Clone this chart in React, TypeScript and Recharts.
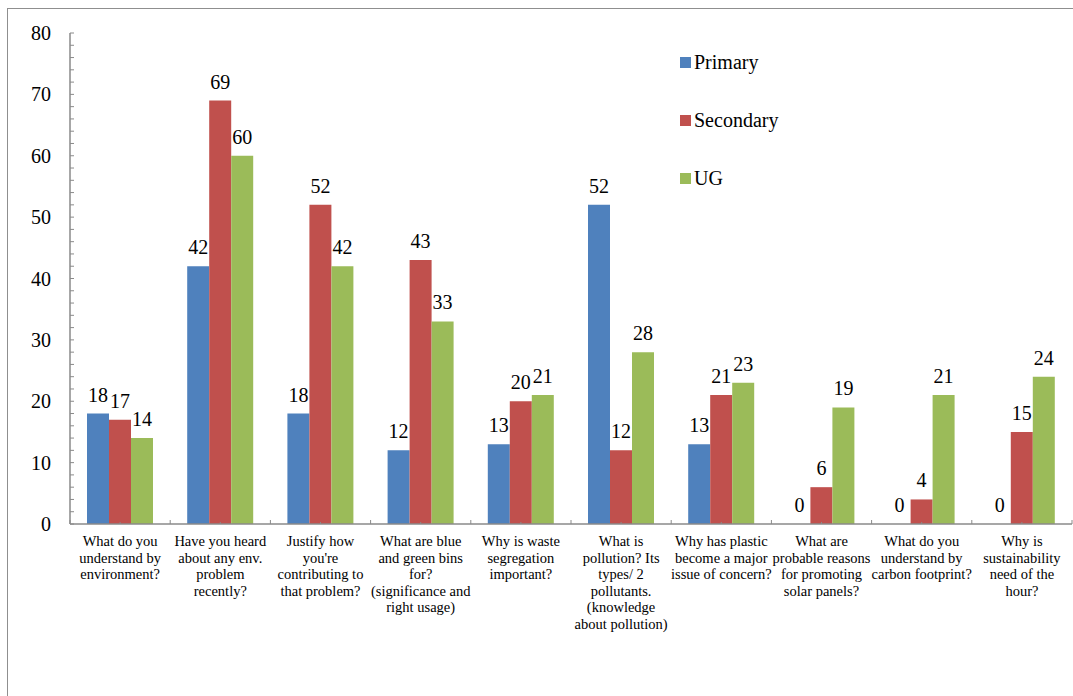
import React from "react";
import { BarChart, Bar, XAxis, YAxis, LabelList } from "recharts";

// survey questions (line breaks as printed under the axis)
const questions = [
  "What do you\nunderstand by\nenvironment?",
  "Have you heard\nabout any env.\nproblem\nrecently?",
  "Justify how\nyou're\ncontributing to\nthat problem?",
  "What are blue\nand green bins\nfor?\n(significance and\nright usage)",
  "Why is waste\nsegregation\nimportant?",
  "What is\npollution? Its\ntypes/ 2\npollutants.\n(knowledge\nabout pollution)",
  "Why has plastic\nbecome a major\nissue of concern?",
  "What are\nprobable reasons\nfor promoting\nsolar panels?",
  "What do you\nunderstand by\ncarbon footprint?",
  "Why is\nsustainability\nneed of the\nhour?",
];

const primary = [18, 42, 18, 12, 13, 52, 13, 0, 0, 0];
const secondary = [17, 69, 52, 43, 20, 12, 21, 6, 4, 15];
const ug = [14, 60, 42, 33, 21, 28, 23, 19, 21, 24];

const yTicks = [0, 2, 4, 6, 8, 10, 12, 14, 16, 18, 20, 22, 24, 26, 28, 30, 32, 34, 36, 38, 40, 42, 44, 46, 48, 50, 52, 54, 56, 58, 60, 62, 64, 66, 68, 70, 72, 74, 76, 78, 80];

const series = [
  { key: "primary", name: "Primary", color: "#4F81BD" },
  { key: "secondary", name: "Secondary", color: "#C0504D" },
  { key: "ug", name: "UG", color: "#9BBB59" },
];

const data = questions.map((q, i) => ({
  question: q,
  primary: primary[i],
  secondary: secondary[i],
  ug: ug[i],
}));

const FONT = "'Liberation Serif', 'Times New Roman', serif";
const AXIS = "#8a8a8a";

// value labels every 10, small inward marks every 2
const YTick = (props: any) => {
  const { x, y, payload } = props;
  const axisX = x + 19;
  const major = payload.value % 10 === 0;
  return (
    <g>
      <line x1={axisX} x2={axisX + 4} y1={y} y2={y} stroke={AXIS} strokeWidth={1} />
      {major && (
        <text x={x} y={y} dy="0.35em" textAnchor="end" fontSize={20} fill="#000" fontFamily={FONT}>
          {payload.value}
        </text>
      )}
    </g>
  );
};

// wrapped question text plus upward marks at the category boundaries
const XTick = (props: any) => {
  const { x, y, payload, index, width, visibleTicksCount } = props;
  const band = width / visibleTicksCount;
  const lines = String(payload.value).split("\n");
  const left = x - band / 2;
  const right = x + band / 2;
  return (
    <g>
      <line x1={left} x2={left} y1={y} y2={y - 4} stroke={AXIS} />
      {index === visibleTicksCount - 1 && <line x1={right} x2={right} y1={y} y2={y - 4} stroke={AXIS} />}
      <line x1={x} x2={x} y1={y} y2={y - 2} stroke={AXIS} />
      <text textAnchor="middle" fontSize={14.5} fill="#000" fontFamily={FONT}>
        {lines.map((l, i) => (
          <tspan key={i} x={x} y={y + 22 + i * 16.5}>
            {l}
          </tspan>
        ))}
      </text>
    </g>
  );
};

// value above each bar, zeros included
const ValueLabel = (props: any) => {
  const { x, y, width, value } = props;
  return (
    <text x={x + width / 2} y={y - 12} textAnchor="middle" fontSize={20} fill="#000" fontFamily={FONT}>
      {value}
    </text>
  );
};

export default function App() {
  return (
    <>
      <style>{"body{margin:0;overflow:hidden;background:#fff}"}</style>
      <div
        style={{
          position: "absolute",
          left: 7,
          top: 8,
          width: 1065,
          height: 687,
          borderTop: "1px solid #8f8f8f",
          borderLeft: "1px solid #8f8f8f",
          background: "#fff",
        }}
      >
        <BarChart
          width={1065}
          height={687}
          data={data}
          margin={{ top: 24, right: 1, left: 12, bottom: 22 }}
          barSize={22}
          barGap={0}
        >
          <XAxis
            dataKey="question"
            interval={0}
            height={150}
            tickSize={0}
            tickMargin={0}
            tick={<XTick />}
            axisLine={{ stroke: AXIS, strokeWidth: 1.5 }}
            tickLine={false}
          />
          <YAxis
            width={50}
            domain={[0, 80]}
            ticks={yTicks}
            interval={0}
            tickSize={0}
            tickMargin={19}
            tick={<YTick />}
            axisLine={{ stroke: AXIS, strokeWidth: 1.5 }}
            tickLine={false}
          />
          {series.map((s) => (
            <Bar key={s.key} dataKey={s.key} name={s.name} fill={s.color} minPointSize={0.01} isAnimationActive={false}>
              <LabelList dataKey={s.key} content={<ValueLabel />} />
            </Bar>
          ))}
        </BarChart>
        <div style={{ position: "absolute", left: 672, top: 41, fontFamily: FONT, fontSize: 20, color: "#000" }}>
          {series.map((s) => (
            <div key={s.key} style={{ display: "flex", alignItems: "center", height: 24, marginBottom: 34 }}>
              <span style={{ width: 11, height: 11, background: s.color, marginRight: 3, display: "inline-block" }} />
              <span>{s.name}</span>
            </div>
          ))}
        </div>
      </div>
    </>
  );
}
